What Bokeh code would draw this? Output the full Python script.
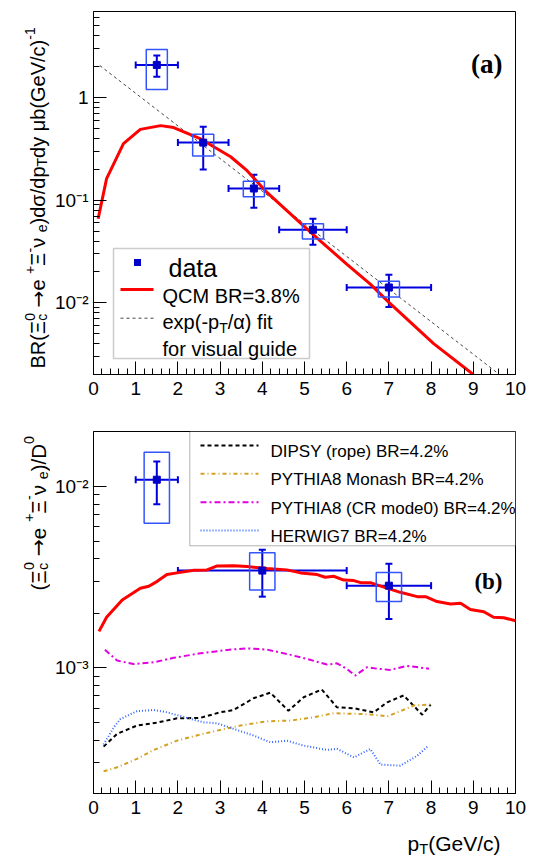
import math
from bokeh.plotting import figure
from bokeh.models import (ColumnDataSource, Whisker, TeeHead, Range1d, FixedTicker,
                          Label, BoxAnnotation, Arrow, CustomJSTickFormatter)
from bokeh.layouts import column, row
from bokeh.core.properties import value
from bokeh.embed import file_html
from bokeh.resources import INLINE

# ---------------- data: panel (a) ----------------
pt_a = [1.5, 2.6, 3.8, 5.2, 7.0]
pt_lo_a = [1.0, 2.0, 3.2, 4.4, 6.0]
pt_hi_a = [2.0, 3.2, 4.4, 6.0, 8.0]
val_a = [2.08, 0.364, 0.130, 0.0515, 0.0141]
stat_lo_a = [1.6, 0.199, 0.0845, 0.0368, 0.0091]
stat_hi_a = [2.57, 0.52, 0.177, 0.066, 0.0188]
sys_lo_a = [1.2, 0.27, 0.108, 0.0418, 0.0114]
sys_hi_a = [2.94, 0.44, 0.153, 0.059, 0.0162]

qcm_pt_a = [0.11, 0.31, 0.71, 1.11, 1.59, 1.9, 2.54, 3.25, 3.64, 4.11, 4.9, 5.38, 6.0, 6.56, 7.0, 8.06, 9.0]
qcm_a = [0.066, 0.162, 0.355, 0.49, 0.533, 0.51, 0.395, 0.265, 0.194, 0.119, 0.060, 0.040, 0.0238, 0.0152, 0.0101, 0.0040, 0.0020]

fit_pt = [0.15, 9.62]
fit_val = [2.05, 0.0020]

# ---------------- data: panel (b) ----------------
pt_b = [1.5, 4.0, 7.0]
pt_lo_b = [1.0, 2.0, 6.0]
pt_hi_b = [2.0, 6.0, 8.0]
val_b = [0.0109, 0.00344, 0.00284]
stat_lo_b = [0.00798, 0.00247, 0.00186]
stat_hi_b = [0.01374, 0.00448, 0.00375]
sys_lo_b = [0.00628, 0.00269, 0.00232]
sys_hi_b = [0.01545, 0.00431, 0.00336]

qcm_pt_b = [0.13, 0.31, 0.68, 1.11, 1.31, 1.51, 1.74, 1.98, 2.38, 2.69, 2.93, 3.32, 3.64, 4.11,
            4.58, 4.91, 5.30, 5.49, 5.69, 5.93, 6.17, 6.33, 6.56, 6.88, 7.27, 7.67, 7.87, 8.14,
            8.46, 8.70, 8.93, 9.25, 9.48, 9.72, 10.0]
qcm_b = [0.00159, 0.0019, 0.00237, 0.00275, 0.00282, 0.0030, 0.00327, 0.00334, 0.00345, 0.00347,
         0.00365, 0.00366, 0.00362, 0.00353, 0.00347, 0.00334, 0.00327, 0.00316, 0.0032, 0.00305,
         0.00303, 0.00295, 0.00295, 0.00279, 0.00261, 0.00247, 0.00247, 0.00232, 0.00225, 0.00227,
         0.0021, 0.00204, 0.0019, 0.00189, 0.00182]

cr_pt = [0.27, 0.56, 0.95, 1.43, 1.90, 2.53, 3.17, 3.64, 4.11, 4.58, 5.06, 5.53, 5.77, 6.0, 6.2,
         6.48, 6.72, 7.03, 7.43, 7.66, 7.95]
cr = [0.001257, 0.001097, 0.00105, 0.001074, 0.001136, 0.001203, 0.001256, 0.001282, 0.001262,
      0.001194, 0.00112, 0.001043, 0.00106, 0.000987, 0.000907, 0.001008, 0.00099, 0.000975,
      0.001026, 0.00101, 0.00099]

dipsy_pt = [0.24, 0.56, 1.03, 1.50, 1.98, 2.53, 3.0, 3.32, 3.79, 4.19, 4.62, 4.98, 5.41, 5.77,
            6.17, 6.64, 6.96, 7.35, 7.79, 7.99]
dipsy = [0.000368, 0.000433, 0.000481, 0.000499, 0.000527, 0.00053, 0.000569, 0.000586, 0.00068,
         0.00073, 0.00058, 0.000689, 0.00076, 0.000606, 0.000599, 0.000569, 0.000646, 0.000705,
         0.000552, 0.000628]

monash_pt = [0.24, 0.56, 1.03, 1.43, 1.98, 2.53, 3.0, 3.48, 4.11, 4.66, 5.21, 5.69, 6.33, 6.64,
             6.96, 7.27, 7.59, 7.99]
monash = [0.000269, 0.000283, 0.000315, 0.000353, 0.000397, 0.000429, 0.000455, 0.000481,
          0.000508, 0.000512, 0.000534, 0.000562, 0.000557, 0.000552, 0.00054, 0.000577,
          0.00062, 0.000628]

herwig_pt = [0.24, 0.48, 0.64, 1.03, 1.43, 1.74, 2.22, 2.61, 2.93, 3.32, 3.79, 4.19, 4.58, 4.98,
             5.53, 5.77, 6.17, 6.56, 6.8, 7.27, 7.67, 7.91]
herwig = [0.000378, 0.00047, 0.000523, 0.000577, 0.000586, 0.000569, 0.00053, 0.000501, 0.000495,
          0.000461, 0.000424, 0.000389, 0.000397, 0.000373, 0.000353, 0.000358, 0.000321,
          0.000357, 0.000293, 0.000289, 0.000328, 0.000368]

x_ticks = list(range(0, 11))
legend_a = ["data", "QCM BR=3.8%", "exp(-p", "T", "/α) fit", "for visual guide"]
legend_b = ["DIPSY (rope) BR=4.2%", "PYTHIA8 Monash BR=4.2%",
            "PYTHIA8 (CR mode0) BR=4.2%", "HERWIG7 BR=4.2%"]

# ---------------- styling ----------------
SANS = "Liberation Sans"
SERIF = "Liberation Serif"
ARROWFONT = "DejaVu Sans"
RED = "#FF0000"
ERR = "#0000DD"
MARK = "#0000C8"
SYS = "#3355FF"
C_DIPSY = "#000000"
C_MONASH = "#D4A020"
C_CR = "#E000E0"
C_HERWIG = "#3366FF"

CW = {' ': .278, '(': .333, ')': .333, '/': .278, '-': .333, '+': .584, '=': .584, '.': .278,
      '%': .889, 'Ξ': .667, 'σ': .617, 'μ': .576, 'ν': .5, 'α': .578, '→': .838,
      'A': .667, 'B': .667, 'C': .722, 'D': .722, 'E': .667, 'G': .778, 'H': .722, 'I': .278,
      'M': .833, 'O': .778, 'P': .667, 'Q': .778, 'R': .722, 'S': .667, 'T': .611, 'V': .667,
      'W': .944, 'Y': .667,
      'a': .556, 'b': .556, 'c': .5, 'd': .556, 'e': .556, 'f': .278, 'g': .556, 'i': .222,
      'l': .222, 'm': .833, 'o': .556, 'p': .556, 'r': .333, 's': .5, 't': .278, 'u': .556,
      'v': .5, 'x': .5, 'y': .5}


def tw(s, size):
    return sum(CW.get(ch, 0.556) for ch in s) * size


# --- labels inside a plot frame (canvas units) ---
def lab(p, x, y, text, size, font=SANS, style="normal", align="left"):
    p.add_layout(Label(x=x, y=y, x_units="canvas", y_units="canvas", text=text,
                       text_font=font, text_font_size=f"{size:.1f}px", text_font_style=style,
                       text_align=align, text_baseline="alphabetic", text_color="black"))


def rich_h(p, x, y, pieces, size):
    for txt, kind in pieces:
        if kind == "n":
            lab(p, x, y, txt, size)
            x += tw(txt, size)
        elif kind == "sub":
            lab(p, x, y + 0.3 * size, txt, 0.7 * size)
            x += tw(txt, 0.7 * size)


# --- text glyphs on a plain "sheet" figure whose data units are pixels ---
def gtext(p, x, y, text, size, angle=0.0, font=SANS):
    p.text(x=[x], y=[y], text=[text], text_font=value(font), text_font_size=value(f"{size:.1f}px"),
           text_align="left", text_baseline="alphabetic", angle=angle, text_color="black")


def rich_v(p, x, y, pieces, size):
    a = math.pi / 2
    for txt, kind in pieces:
        if kind == "n":
            gtext(p, x, y, txt, size, a)
            y -= tw(txt, size)
        elif kind == "arrow":
            gtext(p, x, y, txt, size, a, font=ARROWFONT)
            y -= tw(txt, size)
        elif kind == "sub":
            gtext(p, x + 0.22 * size, y, txt, 0.7 * size, a)
            y -= tw(txt, 0.7 * size)
        elif kind == "sup":
            gtext(p, x - 0.42 * size, y, txt, 0.7 * size, a)
            y -= tw(txt, 0.7 * size)
        elif kind == "supsub":
            sup, sub = txt
            gtext(p, x - 0.42 * size, y, sup, 0.7 * size, a)
            gtext(p, x + 0.22 * size, y, sub, 0.7 * size, a)
            y -= max(tw(sup, 0.7 * size), tw(sub, 0.7 * size))


def rich_hg(p, x, y, pieces, size):
    for txt, kind in pieces:
        if kind == "n":
            gtext(p, x, y, txt, size)
            x += tw(txt, size)
        elif kind == "sub":
            gtext(p, x, y + 0.25 * size, txt, 0.7 * size)
            x += tw(txt, 0.7 * size)


def sheet(w, h):
    s = figure(width=w, height=h, output_backend="svg", toolbar_location=None,
               x_range=Range1d(0, w), y_range=Range1d(h, 0),
               x_axis_location=None, y_axis_location=None,
               min_border=0, min_border_left=0, min_border_right=0,
               min_border_top=0, min_border_bottom=0)
    s.xgrid.visible = False
    s.ygrid.visible = False
    s.outline_line_color = None
    s.background_fill_color = "white"
    s.border_fill_color = "white"
    return s


def hline(p, x0, x1, y, color, width, dash="solid"):
    p.add_layout(Arrow(end=None, x_start=x0, y_start=y, x_end=x1, y_end=y,
                       start_units="canvas", end_units="canvas",
                       line_color=color, line_width=width, line_dash=dash))


log_fmt = CustomJSTickFormatter(code="""
const e = Math.round(Math.log10(tick));
if (e === 0) return "1";
const sup = {"-": "\u207b", "0": "\u2070", "1": "\u00b9", "2": "\u00b2", "3": "\u00b3",
             "4": "\u2074", "5": "\u2075", "6": "\u2076", "7": "\u2077", "8": "\u2078", "9": "\u2079"};
return "10" + String(e).split("").map(c => sup[c]).join("");
""")

LEFT = 50  # width of the y-label sheet


def make_fig(height, border_top, border_bottom, y_lo, y_hi, yt_major, yt_minor):
    p = figure(width=480, height=height, output_backend="svg", toolbar_location=None,
               x_range=Range1d(0, 10), y_range=Range1d(y_lo, y_hi), y_axis_type="log",
               min_border_left=93 - LEFT, min_border_right=15, min_border_top=border_top,
               min_border_bottom=border_bottom)
    p.xgrid.visible = False
    p.ygrid.visible = False
    p.outline_line_color = "black"
    p.outline_line_width = 1
    p.outline_line_alpha = 1
    p.background_fill_color = "white"
    p.border_fill_color = "white"
    p.xaxis.ticker = FixedTicker(ticks=x_ticks,
                                 minor_ticks=[i * 0.2 for i in range(0, 51)])
    p.yaxis.ticker = FixedTicker(ticks=yt_major, minor_ticks=yt_minor)
    p.yaxis.formatter = log_fmt
    for ax in (p.xaxis[0], p.yaxis[0]):
        ax.axis_line_color = "black"
        ax.axis_line_width = 1
        ax.major_tick_in = 13
        ax.major_tick_out = 0
        ax.minor_tick_in = 6
        ax.minor_tick_out = 0
        ax.major_tick_line_color = "black"
        ax.minor_tick_line_color = "black"
        ax.major_label_text_font = SANS
        ax.major_label_text_font_size = "19px"
        ax.major_label_text_color = "black"
    p.xaxis.major_label_standoff = 7
    p.yaxis.major_label_standoff = 5
    return p


def draw_data(p, pt, lo, hi, val, slo, shi, ylo, yhi, hw):
    src = ColumnDataSource(dict(x=pt, xl=lo, xh=hi, y=val, sl=slo, sh=shi,
                                bl=[v - hw for v in pt], br=[v + hw for v in pt],
                                yl=ylo, yh=yhi))
    p.quad(left="bl", right="br", bottom="yl", top="yh", source=src,
           fill_alpha=0, line_color=SYS, line_width=1.5)
    p.add_layout(Whisker(base="x", lower="sl", upper="sh", dimension="height", source=src,
                         line_color=ERR, line_width=2,
                         upper_head=TeeHead(size=7, line_color=ERR, line_width=2),
                         lower_head=TeeHead(size=7, line_color=ERR, line_width=2)))
    p.add_layout(Whisker(base="y", lower="xl", upper="xh", dimension="width", source=src,
                         line_color=ERR, line_width=2,
                         upper_head=TeeHead(size=7, line_color=ERR, line_width=2),
                         lower_head=TeeHead(size=7, line_color=ERR, line_width=2)))
    p.scatter(x="x", y="y", source=src, marker="square", size=7,
              fill_color=MARK, line_color=MARK)


H_A = 412
H_B = 415
H_X = 32

# ---------------- panel (a) ----------------
minor_a = [m * 10.0 ** e for e in (-3, -2, -1) for m in range(2, 10)] + [2, 3, 4, 5, 6]
pa = make_fig(H_A, 11, 38, 0.002, 6.9, [0.01, 0.1, 1], minor_a)

pa.line(fit_pt, fit_val, line_color="#444444", line_width=1, line_dash="3 3")
pa.line(qcm_pt_a, qcm_a, line_color=RED, line_width=3)
draw_data(pa, pt_a, pt_lo_a, pt_hi_a, val_a, stat_lo_a, stat_hi_a, sys_lo_a, sys_hi_a, 0.25)

ox = LEFT
pa.add_layout(BoxAnnotation(left=113 - ox, right=309 - ox, top=248, bottom=358,
                            left_units="canvas", right_units="canvas",
                            top_units="canvas", bottom_units="canvas",
                            fill_color="white", fill_alpha=1,
                            line_color="#555555", line_width=1.5))
pa.add_layout(BoxAnnotation(left=133.5 - ox, right=140.5 - ox, top=258.5, bottom=265.5,
                            left_units="canvas", right_units="canvas",
                            top_units="canvas", bottom_units="canvas",
                            fill_color=MARK, fill_alpha=1, line_alpha=0))
lab(pa, 168 - ox, 267, legend_a[0], 25)
hline(pa, 120 - ox, 153 - ox, 289, RED, 3)
lab(pa, 162 - ox, 295, legend_a[1], 20)
hline(pa, 120 - ox, 153 - ox, 317.7, "#444444", 1, "3 3")
rich_h(pa, 162 - ox, 321.7, [(legend_a[2], "n"), (legend_a[3], "sub"), (legend_a[4], "n")], 20)
lab(pa, 162 - ox, 348.3, legend_a[5], 20)

lab(pa, 502 - ox, 63, "(a)", 27, font=SERIF, style="bold", align="right")

# ---------------- panel (b) ----------------
minor_b = [m * 10.0 ** e for e in (-4, -3) for m in range(2, 10)]
pb = make_fig(H_B, 19, H_B - 19 - 362, 0.000203, 0.0201, [0.001, 0.01], minor_b)

pb.line(qcm_pt_b, qcm_b, line_color=RED, line_width=3)
pb.line(cr_pt, cr, line_color=C_CR, line_width=2, line_dash="6 3 2 3")
pb.line(dipsy_pt, dipsy, line_color=C_DIPSY, line_width=2, line_dash="4 3")
pb.line(monash_pt, monash, line_color=C_MONASH, line_width=2, line_dash="4 3 1 3")
pb.line(herwig_pt, herwig, line_color=C_HERWIG, line_width=2, line_dash="1 2")
draw_data(pb, pt_b, pt_lo_b, pt_hi_b, val_b, stat_lo_b, stat_hi_b, sys_lo_b, sys_hi_b, 0.3)

oy = H_A
pb.add_layout(BoxAnnotation(left=189.3 - ox, right=515 - ox, top=431 - oy, bottom=545.3 - oy,
                            left_units="canvas", right_units="canvas",
                            top_units="canvas", bottom_units="canvas",
                            fill_color="white", fill_alpha=1,
                            line_color="black", line_width=1))
rows_y = [445, 473.3, 501.7, 530]
styles_b = [(C_DIPSY, "4 3"), (C_MONASH, "4 3 1 3"), (C_CR, "6 3 2 3"), (C_HERWIG, "1 2")]
for ry, (col, dash), txt in zip(rows_y, styles_b, legend_b):
    hline(pb, 200 - ox, 258 - ox, ry - oy, col, 2, dash)
    lab(pb, 270 - ox, ry + 6 - oy, txt, 17)

lab(pb, 502 - ox, 581 - oy, "(b)", 23, font=SERIF, style="bold", align="right")

# ---------------- y-axis titles sheet ----------------
ys = sheet(LEFT, H_A + H_B)
rich_v(ys, 37.5, 368, [("BR(Ξ", "n"), (("0", "c"), "supsub"), (" ", "n"), ("→", "arrow"),
                       (" e", "n"), ("+", "sup"), ("Ξ", "n"), ("-", "sup"), (" ν", "n"),
                       ("e", "sub"), (")dσ/dp", "n"), ("T", "sub"), ("dy μb(GeV/c)", "n"),
                       ("-1", "sup")], 20.0)
rich_v(ys, 37.5, 590, [("(Ξ", "n"), (("0", "c"), "supsub"), (" ", "n"), ("→", "arrow"),
                       (" e", "n"), ("+", "sup"), ("Ξ", "n"), ("-", "sup"), (" ν", "n"),
                       ("e", "sub"), (")/D", "n"), ("0", "sup")], 20.5)

# ---------------- x-axis title sheet ----------------
xs = sheet(LEFT + 480, H_X)
rich_hg(xs, 407, 16, [("p", "n"), ("T", "sub"), ("(GeV/c)", "n")], 21)

layout = column(row(ys, column(pa, pb, spacing=0), spacing=0), xs, spacing=0)
open("out.html", "w").write(file_html(layout, INLINE))
